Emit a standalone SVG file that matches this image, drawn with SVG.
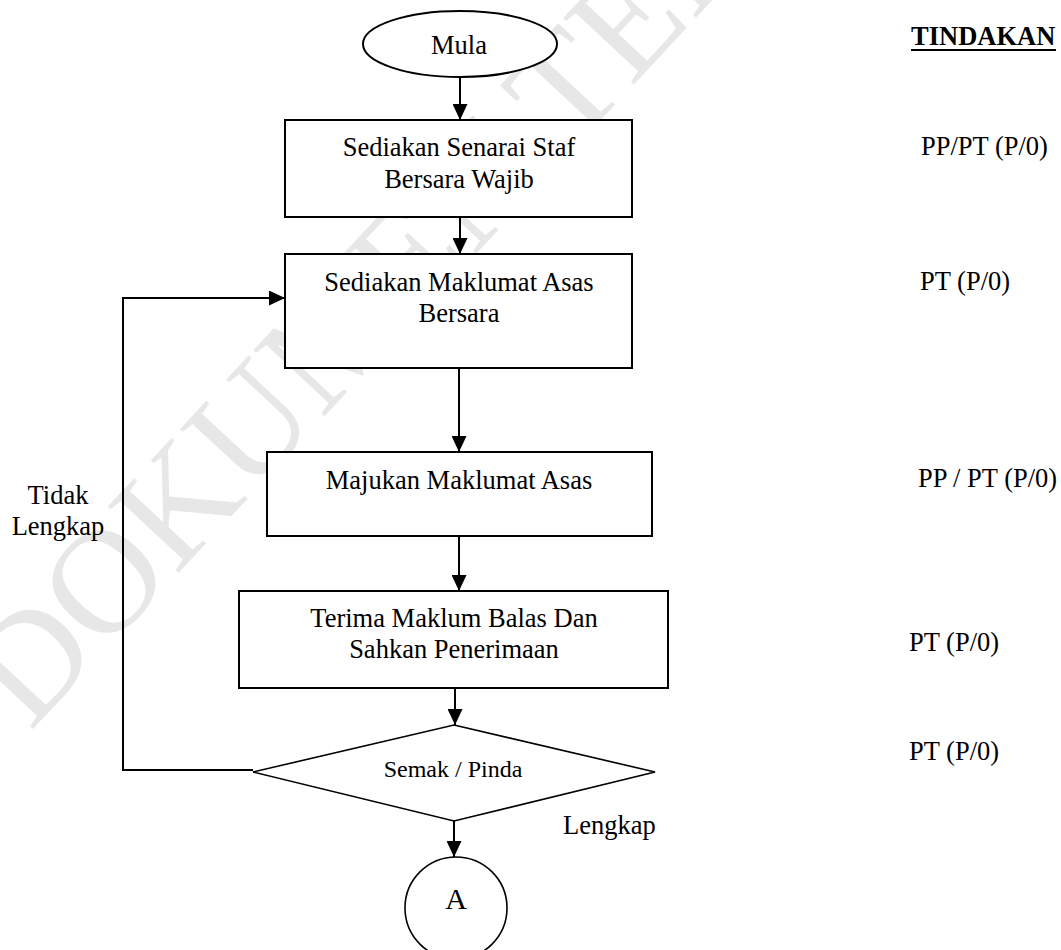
<svg xmlns="http://www.w3.org/2000/svg" width="1061" height="950" viewBox="0 0 1061 950">
  <defs>
    <marker id="arrow" markerUnits="userSpaceOnUse" markerWidth="16" markerHeight="15" refX="16" refY="7.5" orient="auto">
      <path d="M0,0 L16,7.5 L0,15 z" fill="#000"/>
    </marker>
    <style>
      .shape { fill: #fff; stroke: #000; stroke-width: 2; }
      .thin { fill: #fff; stroke: #000; stroke-width: 1.6; }
      .conn { fill: none; stroke: #000; stroke-width: 2; marker-end: url(#arrow); }
      .line { fill: none; stroke: #000; stroke-width: 2; }
      text { font-family: "Liberation Serif", "Times New Roman", serif; font-size: 26.5px; fill: #000; }
      .mid { text-anchor: middle; }
      .small { font-size: 24px; }
      .head { font-weight: bold; }
      .mark { font-size: 148px; fill: #e7e7e7; }
    </style>
  </defs>
  <rect width="1061" height="950" fill="#fff"/>

  <!-- background watermark, sits behind the white-filled shapes -->
  <text class="mark" transform="translate(30,732) rotate(-47)">DOKUMEN TERKAWAL</text>

  <!-- connectors -->
  <g id="connectors">
    <path class="conn" d="M460,77 V120"/>
    <path class="conn" d="M460,217 V254"/>
    <path class="conn" d="M459,368 V452"/>
    <path class="conn" d="M459,536 V591"/>
    <path class="conn" d="M455,688 V725"/>
    <path class="conn" d="M454,821 V857"/>
    <path class="conn" d="M253,770 H123 V298 H285"/>
  </g>

  <!-- flow nodes -->
  <g id="start">
    <ellipse class="shape" cx="460" cy="44" rx="97" ry="33"/>
    <text class="mid" x="459" y="54">Mula</text>
  </g>
  <g id="senarai-staf">
    <rect class="shape" x="285" y="120" width="347" height="97"/>
    <text class="mid" x="459" y="156">Sediakan Senarai Staf</text>
    <text class="mid" x="459" y="188">Bersara Wajib</text>
  </g>
  <g id="maklumat-asas">
    <rect class="shape" x="285" y="254" width="347" height="114"/>
    <text class="mid" x="459" y="291">Sediakan Maklumat Asas</text>
    <text class="mid" x="459" y="322">Bersara</text>
  </g>
  <g id="majukan">
    <rect class="shape" x="267" y="452" width="385" height="84"/>
    <text class="mid" x="459" y="489">Majukan Maklumat Asas</text>
  </g>
  <g id="terima">
    <rect class="shape" x="239" y="591" width="429" height="97"/>
    <text class="mid" x="454" y="627">Terima Maklum Balas Dan</text>
    <text class="mid" x="454" y="658">Sahkan Penerimaan</text>
  </g>
  <g id="semak">
    <polygon class="thin" points="454,725 655,772 454,821 253,772"/>
    <text class="mid small" x="453" y="777">Semak / Pinda</text>
  </g>
  <g id="connector-a">
    <circle class="thin" cx="456" cy="908" r="51"/>
    <text class="mid" x="456" y="909" style="font-size:30px">A</text>
  </g>

  <!-- branch labels -->
  <g id="branch-labels">
    <text class="mid" x="58" y="504">Tidak</text>
    <text class="mid" x="58" y="535">Lengkap</text>
    <text x="563" y="834">Lengkap</text>
  </g>

  <!-- action column -->
  <g id="tindakan">
    <text class="head" x="911" y="45">TINDAKAN</text>
    <line class="line" x1="911" y1="50" x2="1056" y2="50"/>
    <text x="921" y="155">PP/PT (P/0)</text>
    <text x="920" y="290">PT (P/0)</text>
    <text x="918" y="487">PP / PT (P/0)</text>
    <text x="909" y="651">PT (P/0)</text>
    <text x="909" y="760">PT (P/0)</text>
  </g>
</svg>
